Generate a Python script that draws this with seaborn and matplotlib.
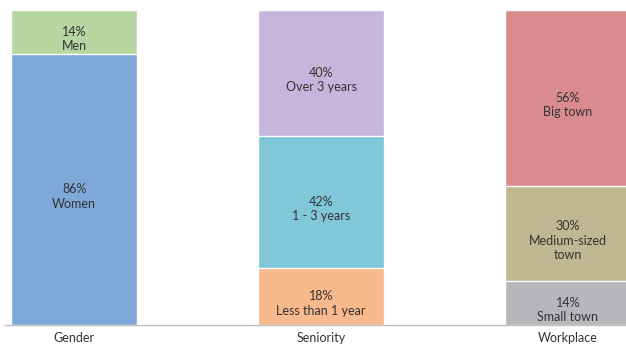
import matplotlib
matplotlib.use("Agg")
import matplotlib.pyplot as plt
import seaborn as sns

# Data: one stacked bar per group, segments listed bottom to top
groups = ["Gender", "Seniority", "Workplace"]
gender_labels = ["Women", "Men"]
gender_values = [86, 14]
seniority_labels = ["Less than 1 year", "1 - 3 years", "Over 3 years"]
seniority_values = [18, 42, 40]
workplace_labels = ["Small town", "Medium-sized\ntown", "Big town"]
workplace_values = [14, 30, 56]

gender_colors = ["#7EA8D8", "#B7D6A2"]
seniority_colors = ["#F8B98C", "#7FC7D9", "#C7B6DB"]
workplace_colors = ["#B5B7BB", "#BFB892", "#D98B90"]

sns.set_style("white")
plt.rcParams["font.family"] = ["Lato", "DejaVu Sans"]

fig = plt.figure(figsize=(6.26, 3.45), dpi=100)
ax = fig.add_axes([5 / 626, 20 / 345, 1 - 5 / 626, 315 / 345])

stacks = [
    ("Gender", gender_labels, gender_values, gender_colors),
    ("Seniority", seniority_labels, seniority_values, seniority_colors),
    ("Workplace", workplace_labels, workplace_values, workplace_colors),
]

# draw cumulative tops, tallest first so smaller ones sit on top
layers = []
for grp, labels, vals, cols in stacks:
    bottom = 0
    for lab, v, c in zip(labels, vals, cols):
        layers.append((grp, lab, v, c, bottom, bottom + v))
        bottom += v

for grp, lab, v, c, b, top in sorted(layers, key=lambda r: -r[5]):
    sns.barplot(x=[grp], y=[top], order=groups, color=c, width=0.51,
                saturation=1, edgecolor="white", linewidth=1, ax=ax)

for grp, lab, v, c, b, top in layers:
    xi = groups.index(grp)
    ax.annotate(f"{v}%\n{lab}", xy=(xi, (b + top) / 2), xytext=(0, -5),
                textcoords="offset points", ha="center", va="center",
                fontsize=9, color="#333333", linespacing=1.25)

ax.set_xlim(-0.28, 2.235)
ax.set_ylim(0, 100)
ax.set_yticks([])
ax.set_xlabel("")
ax.set_ylabel("")
ax.tick_params(axis="x", length=0, pad=5, labelsize=9, labelcolor="#333333")
for s in ["top", "right", "left"]:
    ax.spines[s].set_visible(False)
ax.spines["bottom"].set_color("#BFBFBF")
ax.spines["bottom"].set_linewidth(1)

fig.savefig("out.png", dpi=100)
